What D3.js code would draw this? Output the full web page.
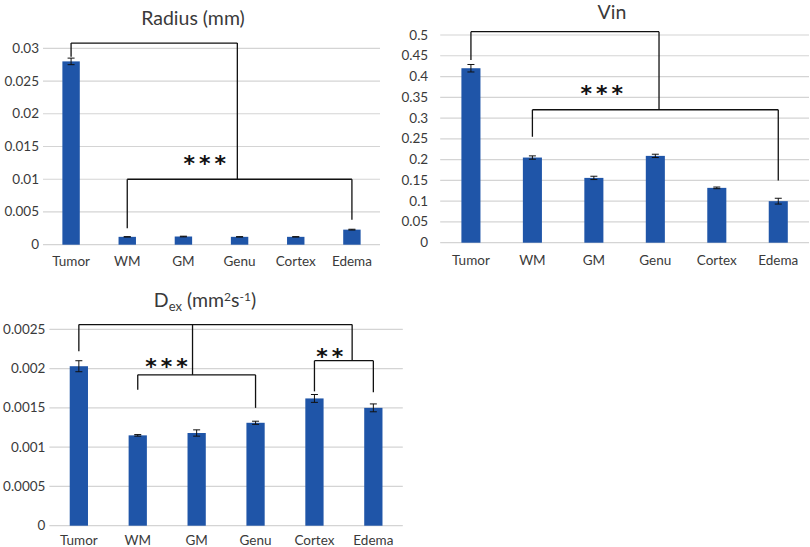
<!DOCTYPE html>
<html>
<head>
<meta charset="utf-8">
<script src="https://cdn.jsdelivr.net/npm/d3@7"></script>
<style>
  body { margin: 0; background: #fff; }
  text { font-family: Lato, 'Open Sans', sans-serif; }
</style>
</head>
<body>
<svg id="chart"></svg>
<script>
const categories = ['Tumor', 'WM', 'GM', 'Genu', 'Cortex', 'Edema'];

const radiusMean = [0.028, 0.0012, 0.00125, 0.0012, 0.0012, 0.0023];
const radiusErr = [0.0005, 0.00003, 0.00005, 0.00003, 0.00003, 0.00006];
const radiusTicks = ['0', '0.005', '0.01', '0.015', '0.02', '0.025', '0.03'];

const vinMean = [0.42, 0.205, 0.156, 0.209, 0.132, 0.1];
const vinErr = [0.009, 0.004, 0.004, 0.004, 0.002, 0.007];
const vinTicks = ['0', '0.05', '0.1', '0.15', '0.2', '0.25', '0.3', '0.35', '0.4', '0.45', '0.5'];

const dexMean = [0.00203, 0.00115, 0.00118, 0.00131, 0.00162, 0.0015];
const dexErr = [0.00007, 0.00001, 0.00004, 0.00002, 0.00005, 0.00005];
const dexTicks = ['0', '0.0005', '0.001', '0.0015', '0.002', '0.0025'];

// significance brackets: horizontal at y from category a to b, with drops [index, yEnd]
const radiusBrackets = [
  { a: 0, b: 2.96, y: 0.0308, drops: [[0, 0.0287], [2.96, 0.01]] },
  { a: 1, b: 5, y: 0.01, drops: [[1, 0.0025], [5, 0.0038]] }
];
const radiusStars = [{ text: '***', at: 2.38, y: 0.0131 }];

const vinBrackets = [
  { a: 0, b: 3.06, y: 0.508, drops: [[0, 0.44], [3.06, 0.32]] },
  { a: 1, b: 5, y: 0.32, drops: [[1, 0.255], [5, 0.15]] }
];
const vinStars = [{ text: '***', at: 2.13, y: 0.369 }];

const dexBrackets = [
  { a: 0, b: 4.64, y: 0.00256, drops: [[0, 0.00222], [1.93, 0.00192], [4.64, 0.0021]] },
  { a: 1, b: 3, y: 0.00192, drops: [[1, 0.00173], [3, 0.0015]] },
  { a: 4, b: 5, y: 0.0021, drops: [[4, 0.00171], [5, 0.0017]] }
];
const dexStars = [
  { text: '***', at: 1.49, y: 0.00208 },
  { text: '**', at: 4.26, y: 0.00221 }
];

const barColor = '#1f55a8';

const svg = d3.select('#chart').attr('width', 810).attr('height', 547);
svg.append('rect').attr('width', 810).attr('height', 547).attr('fill', '#fff');

function drawPanel(opt) {
  const g = svg.append('g');
  const x = d3.scaleBand().domain(categories).range(opt.xr).paddingInner(0.69).paddingOuter(0.345);
  const y = d3.scaleLinear().domain([0, opt.max]).range(opt.yr);
  const xi = (i) => opt.xr[0] + (i + 0.5) * x.step();

  // gridlines
  g.selectAll('line.grid')
    .data(opt.ticks)
    .join('line')
    .attr('x1', opt.xr[0])
    .attr('x2', opt.xr[1])
    .attr('y1', (d) => y(+d))
    .attr('y2', (d) => y(+d))
    .attr('stroke', '#d4d4d4')
    .attr('stroke-width', 1.2);

  g.selectAll('text.tick')
    .data(opt.ticks)
    .join('text')
    .attr('x', opt.xr[0] - opt.labelGap)
    .attr('y', (d) => y(+d) + 4.5)
    .attr('text-anchor', 'end')
    .attr('font-size', 13.5)
    .attr('fill', '#3a3a3a')
    .text((d) => d);

  g.selectAll('rect.bar')
    .data(opt.mean)
    .join('rect')
    .attr('x', (d, i) => x(categories[i]))
    .attr('width', x.bandwidth())
    .attr('y', (d) => y(d))
    .attr('height', (d) => y(0) - y(d))
    .attr('fill', barColor);

  // error bars
  const eb = g.selectAll('g.err').data(opt.mean).join('g').attr('stroke', '#111').attr('stroke-width', 1);
  eb.append('line')
    .attr('x1', (d, i) => xi(i))
    .attr('x2', (d, i) => xi(i))
    .attr('y1', (d, i) => y(d - opt.err[i]))
    .attr('y2', (d, i) => y(d + opt.err[i]));
  [-1, 1].forEach((s) => {
    eb.append('line')
      .attr('x1', (d, i) => xi(i) - 3.5)
      .attr('x2', (d, i) => xi(i) + 3.5)
      .attr('y1', (d, i) => y(d + s * opt.err[i]))
      .attr('y2', (d, i) => y(d + s * opt.err[i]));
  });

  g.selectAll('text.cat')
    .data(categories)
    .join('text')
    .attr('x', (d) => x(d) + x.bandwidth() / 2)
    .attr('y', opt.catY)
    .attr('text-anchor', 'middle')
    .attr('font-size', 13.5)
    .attr('fill', '#3a3a3a')
    .text((d) => d);

  // brackets
  opt.brackets.forEach((b) => {
    g.append('line')
      .attr('x1', xi(b.a)).attr('x2', xi(b.b))
      .attr('y1', y(b.y)).attr('y2', y(b.y))
      .attr('stroke', '#111').attr('stroke-width', 1.3);
    b.drops.forEach(([i, ye]) => {
      g.append('line')
        .attr('x1', xi(i)).attr('x2', xi(i))
        .attr('y1', y(b.y)).attr('y2', y(ye))
        .attr('stroke', '#111').attr('stroke-width', 1.3);
    });
  });

  opt.stars.forEach((s) => {
    g.append('text')
      .attr('x', xi(s.at) + 2)
      .attr('y', y(s.y) + 12)
      .attr('text-anchor', 'middle')
      .style('font-family', "'DejaVu Sans', sans-serif")
      .attr('font-size', 22)
      .attr('font-weight', 'bold')
      .attr('letter-spacing', 4)
      .attr('fill', '#111')
      .text(s.text);
  });

  const t = g.append('text')
    .attr('x', opt.titleX)
    .attr('y', opt.titleY)
    .attr('text-anchor', 'middle')
    .attr('font-size', 19.5)
    .attr('fill', '#3a3a3a');
  opt.title(t);
}

drawPanel({
  xr: [43, 380], yr: [244.7, 48.3], max: 0.03, ticks: radiusTicks, labelGap: 4,
  mean: radiusMean, err: radiusErr, catY: 266, brackets: radiusBrackets, stars: radiusStars,
  titleX: 193, titleY: 25, title: (t) => t.text('Radius (mm)')
});

drawPanel({
  xr: [440.2, 809], yr: [242.7, 35], max: 0.5, ticks: vinTicks, labelGap: 12,
  mean: vinMean, err: vinErr, catY: 264.5, brackets: vinBrackets, stars: vinStars,
  titleX: 612, titleY: 18.5, title: (t) => t.text('Vin')
});

drawPanel({
  xr: [49.4, 402.8], yr: [525.7, 329.3], max: 0.0025, ticks: dexTicks, labelGap: 4,
  mean: dexMean, err: dexErr, catY: 545, brackets: dexBrackets, stars: dexStars,
  titleX: 205, titleY: 306.5,
  title: (t) => {
    t.append('tspan').text('D');
    t.append('tspan').attr('font-size', 13).attr('dy', 4).text('ex');
    t.append('tspan').attr('dy', -4).text(' (mm');
    t.append('tspan').attr('font-size', 12).attr('dy', -6).text('2');
    t.append('tspan').attr('dy', 6).text('s');
    t.append('tspan').attr('font-size', 12).attr('dy', -6).text('-1');
    t.append('tspan').attr('dy', 6).text(')');
  }
});
</script>
</body>
</html>
